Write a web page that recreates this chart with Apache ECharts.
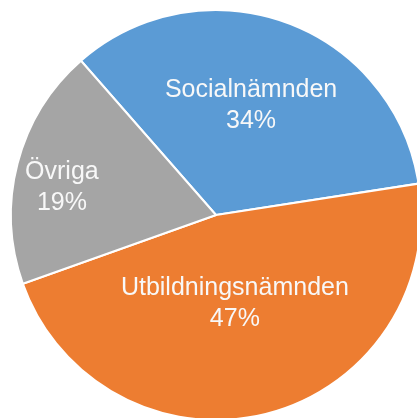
<!DOCTYPE html>
<html>
<head>
<meta charset="utf-8">
<script src="https://cdn.jsdelivr.net/npm/echarts@6/dist/echarts.min.js"></script>
<style>html,body{margin:0;padding:0;background:#fff}#c{width:417px;height:418px}</style>
</head>
<body>
<div id="c"></div>
<script>
const categories = ['Socialnämnden', 'Utbildningsnämnden', 'Övriga'];
const values = [34, 47, 19];
const colors = ['#5B9BD5', '#ED7D31', '#A5A5A5'];
const labelShift = [[-1, -10], [-7, -14], [-52, -1]];

const chart = echarts.init(document.getElementById('c'), null, {renderer: 'canvas'});
chart.setOption({
  animation: false,
  series: [{
    type: 'pie',
    center: [216, 215],
    radius: [0, 205],
    startAngle: 131.2,
    clockwise: true,
    data: categories.map((n, i) => ({name: n, value: values[i], itemStyle: {color: colors[i]}})),
    itemStyle: {borderColor: '#fff', borderWidth: 2},
    label: {
      show: true,
      position: 'inside',
      formatter: p => p.name + '\n' + p.value + '%',
      color: '#f8f8f8',
      fontFamily: 'Liberation Sans, Arial, sans-serif',
      fontSize: 25,
      lineHeight: 31,
      align: 'center'
    },
    labelLayout: p => ({dx: labelShift[p.dataIndex][0], dy: labelShift[p.dataIndex][1]}),
    labelLine: {show: false},
    emphasis: {disabled: true}
  }]
});
</script>
</body>
</html>
